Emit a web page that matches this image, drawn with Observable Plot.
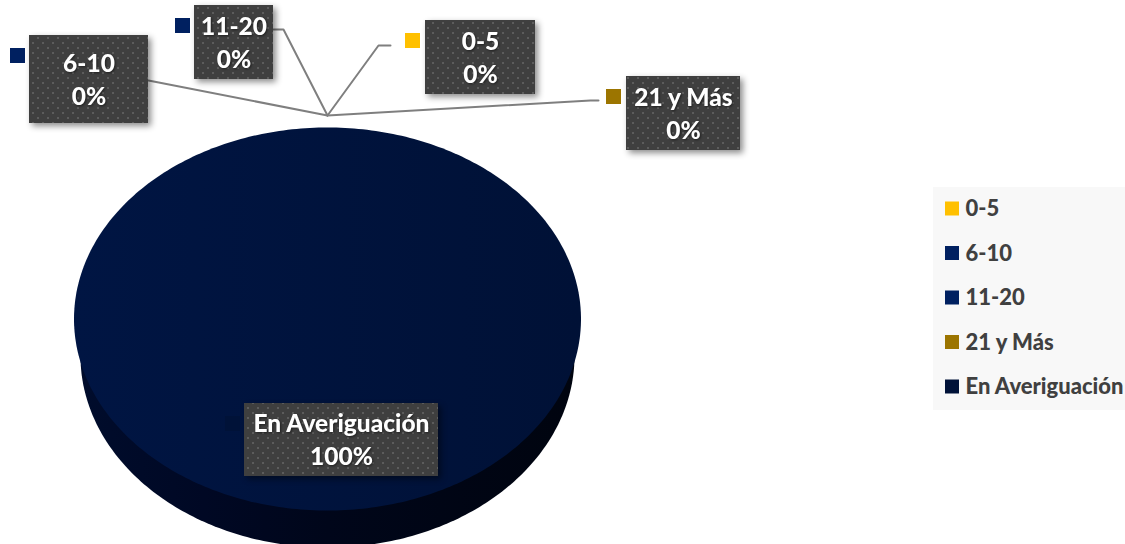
<!DOCTYPE html>
<html>
<head>
<meta charset="utf-8">
<script src="https://cdn.jsdelivr.net/npm/d3@7"></script>
<script src="https://cdn.jsdelivr.net/npm/@observablehq/plot@0.6"></script>
<style>html,body{margin:0;padding:0;background:#fff;overflow:hidden}svg{display:block}</style>
</head>
<body>
<div id="chart"></div>
<script>
// Data
const categories = ["0-5", "6-10", "11-20", "21 y Más", "En Averiguación"];
const values = [0, 0, 0, 0, 100];
const percentLabels = ["0%", "0%", "0%", "0%", "100%"];
const colors = ["#ffc000", "#002060", "#002060", "#9c7500", "#001238"];

// Layout
const W = 1125, H = 544;
const pie = {cx: 327, cy: 318.5, rx: 253.5, ry: 191.5, depth: 37, rxLow: 247};
const boxX1 = [425, 29, 194, 626, 244];
const boxX2 = [535, 148, 273, 740, 438];
const boxY1 = [20, 35, 5, 76, 403];
const swatchX = [405, 10, 175, 606, 225];
const leaderPaths = [
  [[327,115],[378,45],[390,45]],
  [[327,115],[148,80]],
  [[327,115],[283,29],[273,29]],
  [[327,115],[590,100],[598,100]],
];
const boxH = [74, 88, 74, 74, 73];

const table = categories.map((c, i) => ({
  category: c, value: values[i], percent: percentLabels[i], color: colors[i],
  x1: boxX1[i], x2: boxX2[i], y1: boxY1[i], y2: boxY1[i] + boxH[i], sx: swatchX[i],
  legendY: 208.5 + i * 44.5
}));

// Pie geometry from the values
const arcs = d3.pie().sort(null).value(d => d.value).startAngle(0).endAngle(2 * Math.PI)(table);
const ell = (a, dy = 0, rx = pie.rx) => ({x: pie.cx + rx * Math.sin(a), y: pie.cy + dy - pie.ry * Math.cos(a)});
const steps = d3.range(0, 361);
const slices = arcs.filter(a => a.endAngle > a.startAngle);
const topPts = slices.flatMap(a => steps.map(t => ({...ell(a.startAngle + (a.endAngle - a.startAngle) * t / 360), c: a.data.category})));
const sidePts = slices.flatMap(a => steps.map(t => ({...ell(a.startAngle + (a.endAngle - a.startAngle) * t / 360, pie.depth, pie.rxLow), c: a.data.category})));

const defs = () => {
  const d = d3.create("svg:defs");
  const pat = d.append("pattern").attr("id", "dots").attr("width", 10).attr("height", 10).attr("patternUnits", "userSpaceOnUse");
  pat.append("rect").attr("width", 10).attr("height", 10).attr("fill", "#3f3f3f");
  [[2,2],[7,7]].forEach(([x, y]) => pat.append("rect").attr("x", x).attr("y", y).attr("width", 2).attr("height", 2).attr("fill", "#5c5c5c"));
  const g = d.append("linearGradient").attr("id", "side");
  [[0, "#000c2c"], [0.25, "#000824"], [0.5, "#00061a"], [1, "#00040f"]].forEach(([o, c]) => g.append("stop").attr("offset", o).attr("stop-color", c));
  const t = d.append("linearGradient").attr("id", "top");
  [[0, "#001543"], [1, "#001136"]].forEach(([o, c]) => t.append("stop").attr("offset", o).attr("stop-color", c));
  return d.node();
};

const font = "Lato, 'Open Sans', sans-serif";
const shadow = "drop-shadow(1px 1px 1px rgba(0,0,0,0.5))";
const chart = Plot.plot({
  width: W, height: H, margin: 0,
  style: {background: "#fff", fontFamily: font},
  x: {type: "identity", axis: null}, y: {type: "identity", axis: null},
  marks: [
    defs,
    // Pie
    Plot.line(sidePts, {x: "x", y: "y", z: "c", fill: "url(#side)", stroke: "none"}),
    Plot.line(topPts, {x: "x", y: "y", z: "c", fill: "url(#top)", stroke: "none"}),
    // Leaders
    ...leaderPaths.map(p => Plot.line(p, {x: d => d[0], y: d => d[1], stroke: "#7f7f7f", strokeWidth: 2})),
    // Data labels
    Plot.rect(table, {x1: "x1", x2: "x2", y1: "y1", y2: "y2", fill: "url(#dots)", imageFilter: "drop-shadow(3px 3px 3px rgba(0,0,0,0.45))"}),
    Plot.rect(table, {x1: "sx", x2: d => d.sx + 15, y1: d => d.y1 + 13, y2: d => d.y1 + 28, fill: "color"}),
    Plot.text(table, {x: d => (d.x1 + d.x2) / 2, y: d => (d.y1 + d.y2) / 2 + 1 - 16.5, text: "category", fill: "#fff", fontSize: 24.5, fontWeight: 900, imageFilter: shadow}),
    Plot.text(table, {x: d => (d.x1 + d.x2) / 2, y: d => (d.y1 + d.y2) / 2 + 1 + 16.5, text: "percent", fill: "#fff", fontSize: 24.5, fontWeight: 900, imageFilter: shadow}),
    // Legend
    Plot.rect([0], {x1: 933, x2: 1125, y1: 187, y2: 410, fill: "#f8f8f8"}),
    Plot.rect(table, {x1: 945, x2: 959, y1: d => d.legendY - 7, y2: d => d.legendY + 7, fill: "color"}),
    Plot.text(table, {x: 965, y: "legendY", text: "category", textAnchor: "start", fill: "#404040", fontSize: 22, fontWeight: 900})
  ]
});
document.getElementById("chart").append(chart);
</script>
</body>
</html>
